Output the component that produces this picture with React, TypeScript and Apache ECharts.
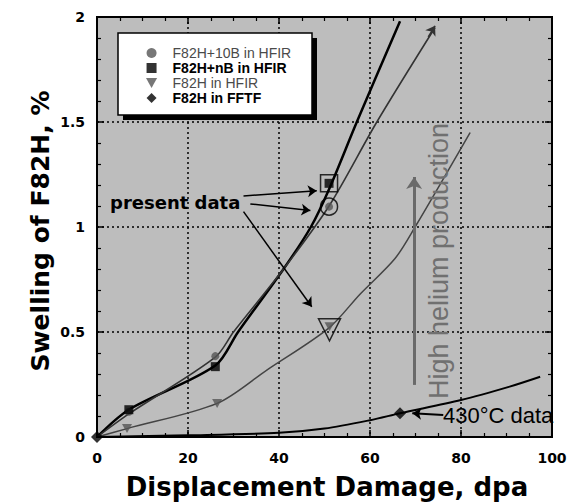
import React, { useEffect, useRef } from "react";
import * as echarts from "echarts";

// Measured points (dpa, swelling %)
const boron10X = [7, 26, 51];
const boron10Y = [0.12, 0.385, 1.097];
const natBX = [7, 26, 51];
const natBY = [0.13, 0.335, 1.208];
const hfirX = [6.6, 26.4, 51.1];
const hfirY = [0.04, 0.16, 0.525];
const fftfX = [0, 66.6];
const fftfY = [0, 0.113];

// Trend curves
const boron10CurveX = [0, 7, 26, 30, 41, 51, 61.5, 74.3];
const boron10CurveY = [0, 0.11, 0.38, 0.5, 0.8, 1.1, 1.5, 1.95];
const natBCurveX = [0, 7, 26, 31, 41, 47, 51, 57.1, 66.6];
const natBCurveY = [0, 0.13, 0.34, 0.5, 0.8, 1.0, 1.18, 1.5, 1.98];
const hfirCurveX = [0, 6.6, 26.4, 37.4, 51, 57.8, 65.5, 69.9, 82];
const hfirCurveY = [0, 0.04, 0.16, 0.32, 0.52, 0.68, 0.85, 1.0, 1.45];
const fftfCurveX = [0, 20, 40, 50, 60, 66.6, 80, 90.7, 97.4];
const fftfCurveY = [0, 0.008, 0.02, 0.04, 0.08, 0.113, 0.176, 0.24, 0.287];

const seriesNames = ["F82H+10B in HFIR", "F82H+nB in HFIR", "F82H in HFIR", "F82H in FFTF"];

const xTitle = "Displacement Damage, dpa";
const yTitle = "Swelling of F82H, %";

const pairs = (xs: number[], ys: number[]) => xs.map((x, i) => [x, ys[i]]);
const last = (xs: number[], ys: number[]) => [[xs[xs.length - 1], ys[ys.length - 1]]];

const INV_TRI = "path://M0,0L10,0L5,9Z";
const SQUARE = "path://M0,0L10,0L10,10L0,10Z";
const DIAMOND = "path://M5,0L10,5L5,10L0,5Z";

function axisBase(extra: any) {
  return {
    type: "value",
    axisLine: { show: true, onZero: false, lineStyle: { color: "#000", width: 2 } },
    axisTick: { show: true, inside: true, length: 7, lineStyle: { color: "#000", width: 1.5 } },
    ...extra,
  };
}

export default function App() {
  const ref = useRef<HTMLDivElement>(null);
  useEffect(() => {
    const chart = echarts.init(ref.current!, null, { renderer: "svg" });
    const labelStyle = {
      color: "#000",
      fontFamily: "DejaVu Sans",
      fontWeight: "bold",
      fontSize: 14,
    };
    const split = { show: true, lineStyle: { color: "#000", type: [2, 3], width: 1.5 } };
    const curve = (name: string, xs: number[], ys: number[], color: string, width: number, extra: any = {}) => ({
      name,
      type: "line",
      data: pairs(xs, ys),
      smooth: 0.3,
      symbol: "none",
      silent: true,
      lineStyle: { color, width },
      z: 2,
      ...extra,
    });
    const option: any = {
      animation: false,
      grid: {
        left: 97,
        right: 20,
        top: 17,
        bottom: 67,
        show: true,
        backgroundColor: "#bdbdbd",
        borderColor: "#000",
        borderWidth: 2,
      },
      xAxis: [
        axisBase({
          min: 0,
          max: 100,
          interval: 20,
          position: "bottom",
          minorTick: { show: true, splitNumber: 4, length: 4, lineStyle: { color: "#000", width: 1.2 } },
          axisLabel: { ...labelStyle, margin: 14 },
          splitLine: split,
        }),
        axisBase({
          min: 0,
          max: 100,
          interval: 20,
          position: "top",
          minorTick: { show: true, splitNumber: 4, length: 4, lineStyle: { color: "#000", width: 1.2 } },
          axisLabel: { show: false },
          splitLine: { show: false },
        }),
      ],
      yAxis: [
        axisBase({
          min: 0,
          max: 2,
          interval: 0.5,
          position: "left",
          minorTick: { show: true, splitNumber: 5, length: 4, lineStyle: { color: "#000", width: 1.2 } },
          axisLabel: { ...labelStyle, margin: 12 },
          splitLine: split,
        }),
        axisBase({
          min: 0,
          max: 2,
          interval: 0.5,
          position: "right",
          minorTick: { show: true, splitNumber: 5, length: 4, lineStyle: { color: "#000", width: 1.2 } },
          axisLabel: { show: false },
          splitLine: { show: false },
        }),
      ],
      legend: {
        orient: "vertical",
        left: 146,
        top: 45.5,
        padding: 0,
        itemGap: 0,
        itemWidth: 32,
        itemHeight: 10,
        selectedMode: false,
        z: 6,
        textStyle: { fontFamily: "Liberation Sans", fontSize: 14, lineHeight: 15, color: "#000" },
        data: [
          { name: seriesNames[0], icon: "circle", textStyle: { color: "#4a4a4a" } },
          { name: seriesNames[1], icon: SQUARE, textStyle: { color: "#000", fontWeight: "bold" } },
          { name: seriesNames[2], icon: INV_TRI, textStyle: { color: "#4a4a4a" } },
          { name: seriesNames[3], icon: DIAMOND, textStyle: { color: "#000", fontWeight: "bold" } },
        ],
      },
      series: [
        curve("fit-nB", natBCurveX, natBCurveY, "#000", 2.5),
        curve("fit-10B", boron10CurveX, boron10CurveY, "#333", 1.6, {
          markLine: {
            silent: true,
            symbol: ["none", "arrow"],
            symbolSize: 9,
            label: { show: false },
            lineStyle: { color: "#333", width: 1.6, type: "solid" },
            data: [[{ coord: [72.8, 1.905] }, { coord: [74.3, 1.958] }]],
          },
        }),
        curve("fit-HFIR", hfirCurveX, hfirCurveY, "#444", 1.5),
        curve("fit-FFTF", fftfCurveX, fftfCurveY, "#000", 2),
        {
          name: seriesNames[0],
          type: "scatter",
          data: pairs(boron10X, boron10Y),
          symbol: "circle",
          symbolSize: 8,
          itemStyle: { color: "#555" },
          z: 4,
        },
        {
          name: seriesNames[1],
          type: "scatter",
          data: pairs(natBX, natBY),
          symbol: "rect",
          symbolSize: 9,
          itemStyle: { color: "#000" },
          z: 4,
        },
        {
          name: seriesNames[2],
          type: "scatter",
          data: pairs(hfirX, hfirY),
          symbol: INV_TRI,
          symbolSize: [10, 9],
          itemStyle: { color: "#555" },
          z: 4,
        },
        {
          name: seriesNames[3],
          type: "scatter",
          data: pairs(fftfX, fftfY),
          symbol: "diamond",
          symbolSize: 12,
          itemStyle: { color: "#000" },
          z: 4,
        },
        {
          name: "present-10B",
          type: "scatter",
          data: last(boron10X, boron10Y),
          symbol: "circle",
          symbolSize: 17,
          itemStyle: { color: "none", borderColor: "#000", borderWidth: 1.5 },
          z: 5,
        },
        {
          name: "present-nB",
          type: "scatter",
          data: last(natBX, natBY),
          symbol: "rect",
          symbolSize: 17,
          itemStyle: { color: "none", borderColor: "#000", borderWidth: 1.5 },
          z: 5,
        },
        {
          name: "present-HFIR",
          type: "scatter",
          data: last(hfirX, hfirY),
          symbol: INV_TRI,
          symbolSize: [22, 22],
          symbolOffset: [0, 3],
          itemStyle: { color: "none", borderColor: "#000", borderWidth: 1.5 },
          z: 5,
        },
        {
          name: "annotations",
          type: "line",
          data: [[0, 0]],
          symbol: "none",
          silent: true,
          lineStyle: { width: 0 },
          z: 6,
          markLine: {
            silent: true,
            symbol: ["none", "arrow"],
            symbolSize: 9,
            label: { show: false },
            lineStyle: { color: "#000", width: 1.5, type: "solid" },
            data: [
              [{ coord: [32.2, 1.148] }, { coord: [48.3, 1.173] }],
              [{ coord: [33.7, 1.11] }, { coord: [46.9, 1.078] }],
              [{ coord: [32.2, 1.073] }, { coord: [47.2, 0.62] }],
              [
                { coord: [76.1, 0.105], lineStyle: { color: "#000", width: 2 } },
                { coord: [69.3, 0.113] },
              ],
              [
                { coord: [69.7, 0.248], lineStyle: { color: "#6a6a6a", width: 3 }, symbolSize: 12 },
                { coord: [69.7, 1.238], symbolSize: 12 },
              ],
            ],
          },
        },
      ],
      graphic: [
        {
          type: "rect",
          x: 123,
          y: 38,
          shape: { x: 0, y: 0, width: 194, height: 82 },
          style: { fill: "#000" },
          z: 3,
        },
        {
          type: "rect",
          x: 118,
          y: 33,
          shape: { x: 0, y: 0, width: 194, height: 82 },
          style: { fill: "#fff", stroke: "#000", lineWidth: 1.5 },
          z: 4,
        },
        {
          type: "text",
          x: 110,
          y: 202,
          z: 10,
          style: {
            text: "present data",
            font: 'bold 18px "DejaVu Sans"',
            fill: "#000",
            textAlign: "left",
            textVerticalAlign: "middle",
          },
        },
        {
          type: "text",
          x: 443,
          y: 415,
          z: 10,
          style: {
            text: "430°C data",
            font: '22px "Liberation Sans"',
            fill: "#000",
            textAlign: "left",
            textVerticalAlign: "middle",
          },
        },
        {
          type: "text",
          x: 439,
          y: 261,
          rotation: Math.PI / 2,
          z: 10,
          style: {
            text: "High helium production",
            font: '27px "Liberation Sans"',
            fill: "#707070",
            textAlign: "center",
            textVerticalAlign: "middle",
          },
        },
        {
          type: "text",
          x: 40,
          y: 231,
          rotation: Math.PI / 2,
          z: 10,
          style: {
            text: yTitle,
            font: 'bold 25px "DejaVu Sans"',
            fill: "#000",
            textAlign: "center",
            textVerticalAlign: "middle",
          },
        },
        {
          type: "text",
          x: 327,
          y: 487,
          z: 10,
          style: {
            text: xTitle,
            font: 'bold 26px "DejaVu Sans"',
            fill: "#000",
            textAlign: "center",
            textVerticalAlign: "middle",
          },
        },
      ],
    };
    chart.setOption(option);
    return () => chart.dispose();
  }, []);
  return (
    <div
      ref={ref}
      style={{ position: "fixed", left: 0, top: 0, width: 572, height: 504, background: "#fff" }}
    />
  );
}
